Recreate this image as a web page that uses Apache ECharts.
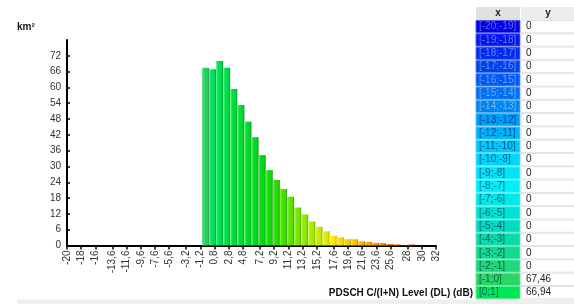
<!DOCTYPE html>
<html>
<head>
<meta charset="utf-8">
<script src="https://cdn.jsdelivr.net/npm/echarts@6/dist/echarts.min.js"></script>
<style>
  html, body { margin: 0; padding: 0; background: #fff; }
  #chart { width: 574px; height: 304px; }
</style>
</head>
<body>
<div id="chart"></div>
<script>
// bins of 1 dB, lower edge
const binStarts = [-20, -19, -18, -17, -16, -15, -14, -13, -12, -11, -10, -9, -8, -7, -6, -5, -4, -3, -2, -1,
  0, 1, 2, 3, 4, 5, 6, 7, 8, 9, 10, 11, 12, 13, 14, 15, 16, 17, 18, 19,
  20, 21, 22, 23, 24, 25, 26, 27, 28, 29, 30, 31];
// area in km2 per bin
const areaValues = [0, 0, 0, 0, 0, 0, 0, 0, 0, 0, 0, 0, 0, 0, 0, 0, 0, 0, 0, 67.46,
  66.94, 70.0, 67.5, 59.4, 53.3, 47.0, 41.1, 34.3, 28.6, 24.9, 21.4, 18.5, 14.4, 11.8, 9.1, 7.1, 5.4, 3.7, 3.1, 2.4,
  2.4, 1.6, 1.4, 1.0, 0.9, 0.6, 0.4, 0.1, 0.4, 0, 0, 0];
const xTicks = [-20, -18, -16, -13.6, -11.6, -9.6, -7.6, -5.6, -3.2, -1.2, 0.8, 2.8, 4.8, 7.2, 9.2, 11.2,
  13.2, 15.2, 17.6, 19.6, 21.6, 23.6, 25.6, 28, 30, 32];
const yTicks = [0, 6, 12, 18, 24, 30, 36, 42, 48, 54, 60, 66, 72];
const tableRows = 21; // bins shown in the side table

// colour ramp by dB
const colorStops = [
  [-20, [0, 0, 230]], [-11, [0, 200, 250]], [-8, [0, 240, 250]], [-5, [0, 220, 190]],
  [-1, [40, 215, 100]], [0, [0, 230, 90]], [3, [0, 225, 60]], [7, [0, 220, 20]],
  [9, [40, 225, 0]], [12, [120, 235, 0]], [15, [200, 240, 0]], [17, [255, 240, 0]],
  [20, [255, 200, 0]], [23, [255, 150, 0]], [26, [240, 110, 20]], [29, [220, 60, 40]]
];

function rampColor(v) {
  if (v <= colorStops[0][0]) return colorStops[0][1];
  for (let i = 1; i < colorStops.length; i++) {
    const [v1, c1] = colorStops[i];
    const [v0, c0] = colorStops[i - 1];
    if (v <= v1) {
      const t = (v - v0) / (v1 - v0);
      return c0.map((c, k) => Math.round(c + (c1[k] - c) * t));
    }
  }
  return colorStops[colorStops.length - 1][1];
}

function mix(c, target, t) {
  return 'rgb(' + c.map((x, k) => Math.round(x + (target[k] - x) * t)).join(',') + ')';
}

function fmt(v) {
  return String(v).replace('.', ',');
}

const chart = echarts.init(document.getElementById('chart'));

const barData = binStarts.map((b, i) => {
  const c = rampColor(b);
  return {
    value: [b + 0.5, areaValues[i]],
    itemStyle: {
      color: new echarts.graphic.LinearGradient(0, 0, 1, 0, [
        { offset: 0, color: mix(c, [255, 255, 255], 0.4) },
        { offset: 0.3, color: mix(c, [255, 255, 255], 0) },
        { offset: 0.8, color: mix(c, [0, 0, 0], 0.05) },
        { offset: 1, color: mix(c, [0, 0, 0], 0.35) }
      ])
    }
  };
});

// side table
const graphics = [];
const tx = 476, tw1 = 44, tw2 = 60, hdrTop = 7, hdrH = 13, rowTop = 20.5, rowH = 13.3;
const font = '"Liberation Sans", Arial';
graphics.push({ type: 'rect', shape: { x: tx, y: hdrTop, width: tw1, height: hdrH }, style: { fill: '#e1e1e1' } });
graphics.push({ type: 'rect', shape: { x: tx + tw1 + 1, y: hdrTop, width: tw2, height: hdrH }, style: { fill: '#ececec' } });
graphics.push({ type: 'text', style: { text: 'x', x: tx + tw1 / 2, y: hdrTop + hdrH / 2, align: 'center', verticalAlign: 'middle', font: 'bold 10px ' + font, fill: '#222' } });
graphics.push({ type: 'text', style: { text: 'y', x: tx + tw1 + 1 + 27, y: hdrTop + hdrH / 2, align: 'center', verticalAlign: 'middle', font: 'bold 10px ' + font, fill: '#222' } });
for (let i = 0; i < tableRows; i++) {
  const b = binStarts[i];
  const c = rampColor(b);
  const y = rowTop + i * rowH;
  const lum = 0.3 * c[0] + 0.59 * c[1] + 0.11 * c[2];
  const textColor = lum < 110 ? mix(c, [255, 255, 255], 0.4) : mix(c, [0, 0, 60], 0.55);
  graphics.push({ type: 'rect', shape: { x: tx, y: y, width: tw1, height: rowH - 1 }, style: { fill: mix(c, [0, 0, 0], 0), stroke: mix(c, [255, 255, 255], 0.35), lineWidth: 1 } });
  graphics.push({ type: 'text', style: { text: '[' + b + ';' + (b + 1) + ']', x: tx + 3, y: y + rowH / 2 - 0.5, verticalAlign: 'middle', font: '10px ' + font, fill: textColor } });
  graphics.push({ type: 'rect', shape: { x: tx + tw1 + 1, y: y, width: tw2, height: rowH - 1 }, style: { fill: '#fff', stroke: '#e2e2e2', lineWidth: 1 } });
  graphics.push({ type: 'text', style: { text: fmt(areaValues[i]), x: tx + tw1 + 6, y: y + rowH / 2 - 0.5, verticalAlign: 'middle', font: '10px ' + font, fill: '#222' } });
}
graphics.push({ type: 'rect', z: -1, shape: { x: 17, y: 299.5, width: 557, height: 5 }, style: { fill: '#efefef' } });
graphics.push({ type: 'text', style: { text: 'km²', x: 17, y: 27, verticalAlign: 'middle', font: 'bold 10px ' + font, fill: '#111' } });
graphics.push({ type: 'text', style: { text: 'PDSCH C/(I+N) Level (DL) (dB)', x: 473, y: 293, align: 'right', verticalAlign: 'middle', font: 'bold 10px ' + font, fill: '#111' } });

chart.setOption({
  animation: false,
  grid: { left: 67, right: 138, top: 40, bottom: 58.5 },
  xAxis: {
    type: 'value',
    min: -20,
    max: 32,
    axisLine: { lineStyle: { color: '#000', width: 2 } },
    axisTick: { show: true, customValues: xTicks, length: 4, lineStyle: { color: '#000', width: 1.5 } },
    axisLabel: {
      customValues: xTicks,
      rotate: 90,
      margin: 5,
      fontSize: 10,
      fontFamily: font,
      color: '#333',
      formatter: v => fmt(v)
    },
    splitLine: { show: false }
  },
  yAxis: {
    type: 'value',
    min: 0,
    max: 78,
    axisLine: { show: true, onZero: false, lineStyle: { color: '#000', width: 2 } },
    axisTick: { show: true, inside: true, customValues: yTicks, length: 3, lineStyle: { color: '#000', width: 1.5 } },
    axisLabel: {
      customValues: yTicks,
      margin: 6,
      fontSize: 10,
      fontFamily: font,
      color: '#333'
    },
    splitLine: { show: false }
  },
  series: [{
    type: 'bar',
    data: barData,
    barWidth: 7,
    barGap: '0%'
  }],
  graphic: graphics
});
</script>
</body>
</html>
